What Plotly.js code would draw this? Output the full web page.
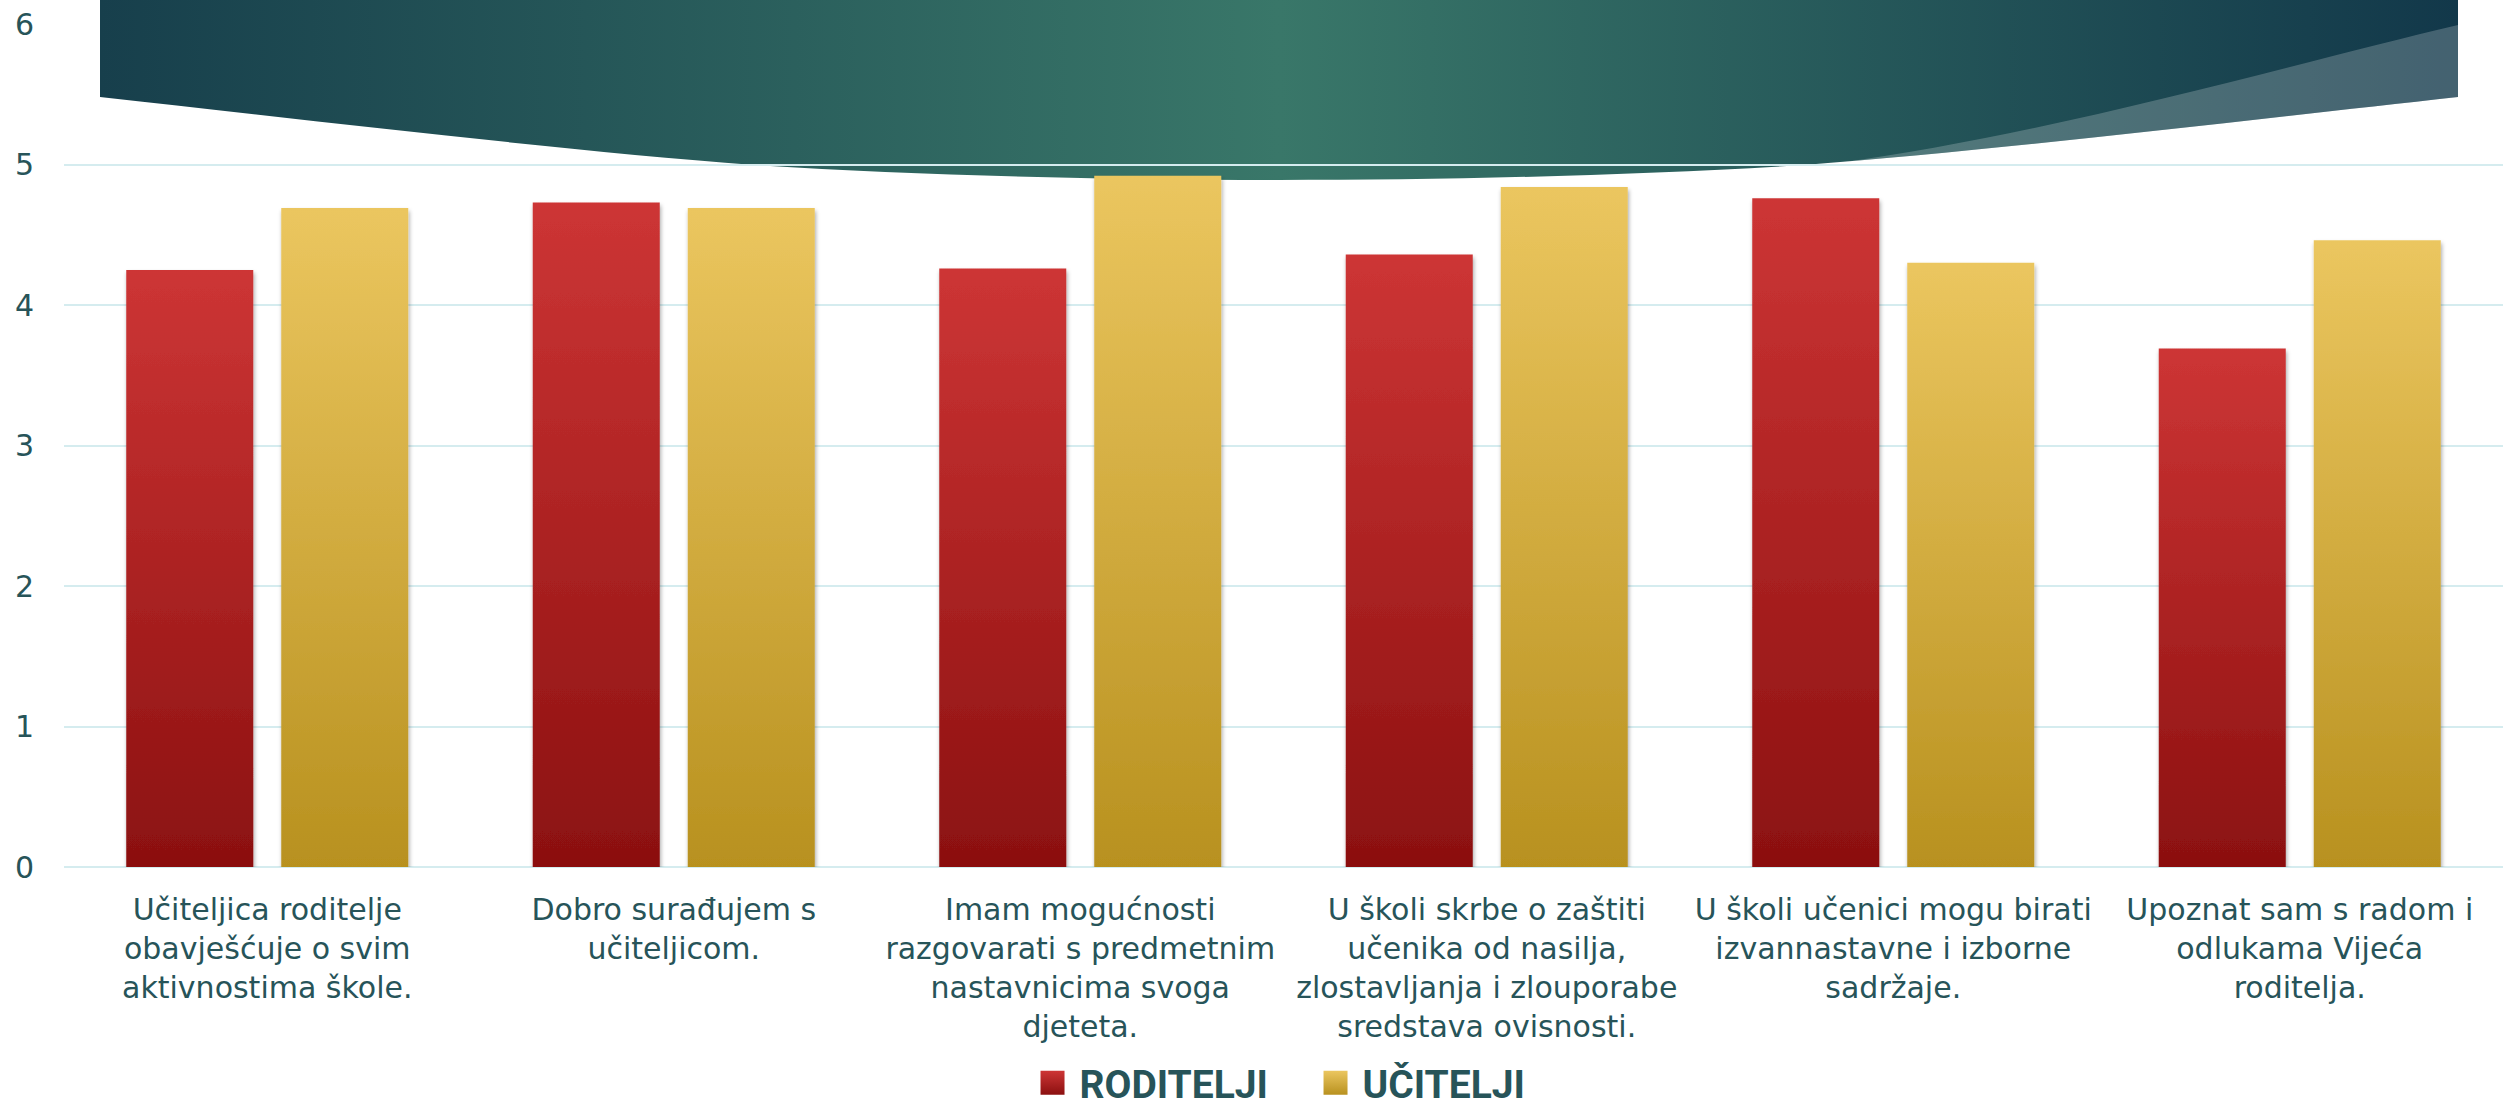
<!DOCTYPE html>
<html>
<head>
<meta charset="utf-8">
<script src="https://cdn.plot.ly/plotly-3.0.1.min.js"></script>
<style>html,body{margin:0;padding:0;background:#fff;}#chart{width:2503px;height:1109px;}</style>
</head>
<body>
<div id="chart"></div>
<script>
const categories = [
  "Učiteljica roditelje<br>obavješćuje o svim<br>aktivnostima škole.",
  "Dobro surađujem s<br>učiteljicom.",
  "Imam mogućnosti<br>razgovarati s predmetnim<br>nastavnicima svoga<br>djeteta.",
  "U školi skrbe o zaštiti<br>učenika od nasilja,<br>zlostavljanja i zlouporabe<br>sredstava ovisnosti.",
  "U školi učenici mogu birati<br>izvannastavne i izborne<br>sadržaje.",
  "Upoznat sam s radom i<br>odlukama Vijeća<br>roditelja."
];
const roditelji = [4.25, 4.73, 4.26, 4.36, 4.76, 3.69];
const ucitelji = [4.69, 4.69, 4.92, 4.84, 4.30, 4.46];
const seriesNames = ["RODITELJI", "UČITELJI"];
const yTicks = [0, 1, 2, 3, 4, 5, 6];

const textColor = "#275459";
const gridColor = "#d5ecef";

// decorative banner (background artwork, not data)
const W = 2503, H = 1109;
const mainPath = "M100,0 L2458,0 L2458,97 C2250,120 2000,150 1804,165 C1650,175 1450,180 1279,180 " +
                 "C1108,180 908,175 754,165 C558,150 308,120 100,97 Z";
const banner = `<svg xmlns="http://www.w3.org/2000/svg" width="${W}" height="${H}" viewBox="0 0 ${W} ${H}" preserveAspectRatio="none">
<defs>
<linearGradient id="bg" x1="100" y1="0" x2="2458" y2="0" gradientUnits="userSpaceOnUse">
<stop offset="0" stop-color="#173f4c"/>
<stop offset="0.5" stop-color="#397769"/>
<stop offset="1" stop-color="#12384a"/>
</linearGradient>
<clipPath id="cp"><path d="${mainPath}"/></clipPath>
</defs>
<path d="${mainPath}" fill="url(#bg)"/>
<path clip-path="url(#cp)" d="M2458,25 C2300,62 2050,135 1836,163 L1836,300 L2503,300 L2503,25 Z" fill="#ffffff" fill-opacity="0.21"/>
</svg>`;

const plotL = 64, plotR = 2503, plotT = 24, plotB = 867;
const pw = plotR - plotL, ph = plotB - plotT;

const data = [
  {type: "bar", name: seriesNames[0], x: categories, y: roditelji, marker: {color: "#b52727"}},
  {type: "bar", name: seriesNames[1], x: categories, y: ucitelji, marker: {color: "#d4ab3e"}}
];

const layout = {
  width: W, height: H,
  margin: {l: plotL, r: W - plotR, t: plotT, b: H - plotB, pad: 0, autoexpand: false},
  paper_bgcolor: "rgba(0,0,0,0)",
  plot_bgcolor: "rgba(0,0,0,0)",
  barmode: "group",
  bargap: 0.2374,
  bargroupgap: 0.1806,
  font: {family: "DejaVu Sans", size: 30, color: textColor},
  xaxis: {
    type: "category",
    showgrid: false, showline: false, zeroline: false, ticks: "",
    tickfont: {family: "DejaVu Sans", size: 30, color: textColor},
    ticklabelstandoff: 22,
    tickangle: 0,
    automargin: false
  },
  yaxis: {
    range: [0, 6], tickvals: yTicks, ticktext: yTicks.map(String),
    showgrid: true, gridcolor: gridColor, gridwidth: 2,
    zeroline: true, zerolinecolor: gridColor, zerolinewidth: 2,
    showline: false, ticks: "",
    tickfont: {family: "DejaVu Sans", size: 30, color: textColor},
    ticklabelstandoff: 29,
    automargin: false
  },
  showlegend: true,
  legend: {
    orientation: "h", x: 0.516, xanchor: "center",
    yref: "container", y: 0, yanchor: "bottom",
    font: {family: "Roboto", size: 39, color: textColor, weight: 700},
    bgcolor: "rgba(0,0,0,0)", traceorder: "normal",
    entrywidth: 238, entrywidthmode: "pixels"
  },
  images: [{
    source: "data:image/svg+xml;charset=utf-8," + encodeURIComponent(banner),
    xref: "paper", yref: "paper",
    x: -plotL / pw, y: 1 + plotT / ph,
    sizex: W / pw, sizey: H / ph,
    xanchor: "left", yanchor: "top", sizing: "stretch", layer: "below"
  }]
};

function addGradients(gd) {
  const svgNS = "http://www.w3.org/2000/svg";
  const defs = gd.querySelector("svg.main-svg defs");
  if (!defs || defs.querySelector("#gradRed")) return;
  const grads = [["gradRed", "#cd3535", "#8b1010"], ["gradGold", "#ebc65f", "#b8911f"]];
  grads.forEach(([id, c1, c2]) => {
    const lg = document.createElementNS(svgNS, "linearGradient");
    lg.setAttribute("id", id);
    lg.setAttribute("x1", "0"); lg.setAttribute("y1", "0");
    lg.setAttribute("x2", "0"); lg.setAttribute("y2", "1");
    [[0, c1], [1, c2]].forEach(([o, c]) => {
      const s = document.createElementNS(svgNS, "stop");
      s.setAttribute("offset", o); s.setAttribute("stop-color", c);
      lg.appendChild(s);
    });
    defs.appendChild(lg);
  });
  const f = document.createElementNS(svgNS, "filter");
  f.setAttribute("id", "barShadow");
  f.setAttribute("x", "-10%"); f.setAttribute("y", "-5%");
  f.setAttribute("width", "125%"); f.setAttribute("height", "115%");
  const ds = document.createElementNS(svgNS, "feDropShadow");
  ds.setAttribute("dx", "1"); ds.setAttribute("dy", "3");
  ds.setAttribute("stdDeviation", "2");
  ds.setAttribute("flood-color", "#000"); ds.setAttribute("flood-opacity", "0.35");
  f.appendChild(ds);
  defs.appendChild(f);

  const ids = ["gradRed", "gradGold"];
  gd.querySelectorAll(".barlayer .trace").forEach((t, i) => {
    t.querySelectorAll(".point path").forEach(p => {
      p.style.fill = "url(#" + ids[i] + ")";
      p.setAttribute("filter", "url(#barShadow)");
    });
  });
  gd.querySelectorAll(".legend .traces").forEach((t, i) => {
    t.querySelectorAll(".legendpoints path").forEach(p => {
      p.style.fill = "url(#" + ids[i] + ")";
      p.removeAttribute("transform");
      p.setAttribute("d", "M25,12H1V-12H25Z");
    });
  });
  const lgd = gd.querySelector("g.legend");
  if (lgd) {
    const tr = lgd.getAttribute("transform") || "";
    const m = tr.match(/translate\(\s*([-\d.e]+)[ ,]+([-\d.e]+)\s*\)/);
    if (m) lgd.setAttribute("transform", "translate(" + m[1] + "," + (parseFloat(m[2]) + 6) + ")");
  }
}

Plotly.newPlot("chart", data, layout, {displayModeBar: false, staticPlot: true}).then(addGradients);
</script>
</body>
</html>
